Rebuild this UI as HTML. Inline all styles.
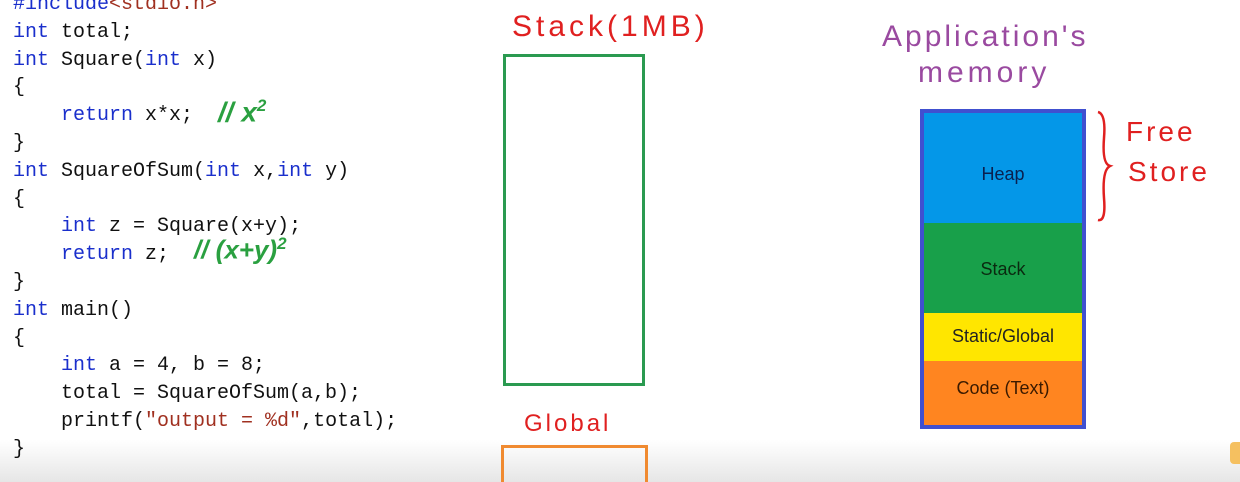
<!DOCTYPE html>
<html><head><meta charset="utf-8"><style>
html,body{margin:0;padding:0;width:1240px;height:482px;overflow:hidden}
body{position:relative;background:#fff;font-family:"Liberation Sans",sans-serif}
.code{position:absolute;left:13px;top:-9px;font-family:"Liberation Mono",monospace;font-size:20px;line-height:27.8px;color:#111;white-space:pre;margin:0}
.k{color:#1a2fcc}
.s{color:#a03020}
.hw{position:absolute;font-family:"Liberation Sans",sans-serif;white-space:nowrap}
.fade{position:absolute;left:0;top:440px;width:1240px;height:42px;background:linear-gradient(#fff,#e6e6e6)}
</style></head><body>
<div class="fade"></div>
<pre class="code"><span class="k">#include</span><span class="s">&lt;stdio.h&gt;</span>
<span class="k">int</span> total;
<span class="k">int</span> Square(<span class="k">int</span> x)
{
    <span class="k">return</span> x*x;
}
<span class="k">int</span> SquareOfSum(<span class="k">int</span> x,<span class="k">int</span> y)
{
    <span class="k">int</span> z = Square(x+y);
    <span class="k">return</span> z;
}
<span class="k">int</span> main()
{
    <span class="k">int</span> a = 4, b = 8;
    total = SquareOfSum(a,b);
    printf(<span class="s">"output = %d"</span>,total);
}</pre>
<div class="hw" style="left:218px;top:96px;color:#2aa040;font-size:28px;font-style:italic;font-weight:bold">// x<sup style="font-size:17px">2</sup></div>
<div class="hw" style="left:194px;top:234px;color:#2aa040;font-size:26px;font-style:italic;font-weight:bold">// (x+y)<sup style="font-size:17px">2</sup></div>

<div class="hw" style="left:512px;top:10px;color:#e02020;font-size:30px;letter-spacing:4px">Stack(1MB)</div>
<div style="position:absolute;left:503px;top:54px;width:136px;height:326px;border:3px solid #2a9a50"></div>
<div class="hw" style="left:524px;top:410px;color:#e02020;font-size:24px;letter-spacing:3px">Global</div>
<div style="position:absolute;left:501px;top:445px;width:141px;height:40px;border:3px solid #f08a30;border-bottom:none"></div>

<div class="hw" style="left:882px;top:20px;color:#9a4aa0;font-size:30px;letter-spacing:3px">Application's</div>
<div class="hw" style="left:918px;top:56px;color:#9a4aa0;font-size:30px;letter-spacing:4px">memory</div>

<div style="position:absolute;left:920px;top:109px;width:158px;height:312px;border:4px solid #4050d0;background:#ff8520">
 <div style="position:absolute;left:0;top:0;width:158px;height:110px;background:#0497e8;text-align:center;line-height:122px;font-size:18px;color:#0a2050">Heap</div>
 <div style="position:absolute;left:0;top:110px;width:158px;height:90px;background:#18a04a;text-align:center;line-height:92px;font-size:18px;color:#0a2a10">Stack</div>
 <div style="position:absolute;left:0;top:200px;width:158px;height:48px;background:#ffe600;text-align:center;line-height:46px;font-size:18px;color:#222">Static/Global</div>
 <div style="position:absolute;left:0;top:248px;width:158px;height:64px;background:#ff8520;text-align:center;line-height:54px;font-size:18px;color:#3a1a00">Code (Text)</div>
</div>

<svg style="position:absolute;left:1090px;top:108px" width="30" height="120"><path d="M8 4 Q16 6 14 30 Q12 56 20 58 Q12 62 14 90 Q16 114 8 112" fill="none" stroke="#e02020" stroke-width="2.5"/></svg>
<div class="hw" style="left:1126px;top:116px;color:#e02020;font-size:28px;letter-spacing:3px">Free</div>
<div class="hw" style="left:1128px;top:156px;color:#e02020;font-size:28px;letter-spacing:3px">Store</div>
<div style="position:absolute;left:1230px;top:442px;width:10px;height:22px;background:#f5c060;border-radius:4px 0 0 4px"></div>
</body></html>
